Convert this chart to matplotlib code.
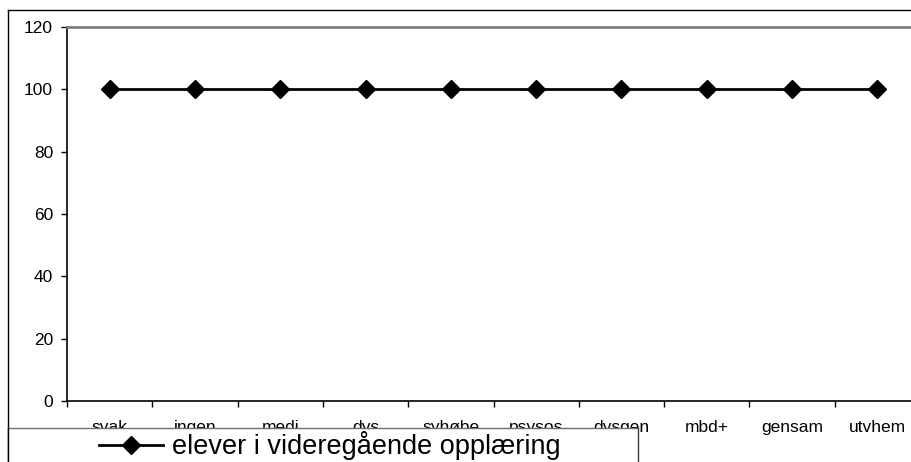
import numpy as np
import matplotlib.pyplot as plt
from matplotlib.patches import Rectangle
from matplotlib.lines import Line2D

plt.rcParams['font.family'] = ['Liberation Sans', 'DejaVu Sans']

categories = ['svak', 'ingen', 'medi', 'dys', 'syhøbe', 'psysos', 'dysgen', 'mbd+', 'gensam', 'utvhem']
values = [100, 100, 100, 100, 100, 100, 100, 100, 100, 100]
series_name = 'elever i videregående opplæring'
yticks = [0, 20, 40, 60, 80, 100, 120]

W, H = 912, 462
fig = plt.figure(figsize=(W / 100, H / 100), dpi=100)

# plot area in pixels: left 67, right 920 (runs past the edge), top 27, bottom 401
ax = fig.add_axes([67 / W, 1 - 401 / H, (920 - 67) / W, (401 - 27) / H])

x = np.arange(len(categories))
ax.plot(x, values, color='black', lw=2.0, marker='D', markersize=8.8,
        markerfacecolor='black', markeredgecolor='black', label=series_name)

ax.set_xlim(-0.5, len(categories) - 0.5)
ax.set_ylim(0, 120)
ax.set_yticks(yticks)
ax.set_yticklabels([str(t) for t in yticks], fontsize=12.5)

# tick marks between categories, labels at category centres
ax.set_xticks(np.arange(-0.5, len(categories), 1.0))
ax.set_xticklabels([])
ax.set_xticks(x, minor=True)
ax.set_xticklabels(categories, minor=True, fontsize=12.5)
ax.tick_params(axis='x', which='major', direction='out', length=4.5, width=1, color='black')
ax.tick_params(axis='x', which='minor', length=0, pad=14)
ax.tick_params(axis='y', direction='out', length=4.5, width=1, pad=5.5)

ax.spines['top'].set_color('#808080')
ax.spines['top'].set_linewidth(2)
ax.spines['right'].set_visible(False)
ax.spines['left'].set_linewidth(1.2)
ax.spines['bottom'].set_linewidth(1.2)

# outer chart border
fig.add_artist(Line2D([8 / W, 8 / W], [0, 1 - 10 / H], transform=fig.transFigure, color='black', lw=1))
fig.add_artist(Line2D([8 / W, 1], [1 - 10 / H, 1 - 10 / H], transform=fig.transFigure, color='black', lw=1))

# legend box
box = Rectangle((8 / W, -0.05), (638 - 8) / W, 0.05 + (H - 428) / H, transform=fig.transFigure,
                facecolor='white', edgecolor='none', zorder=3)
fig.add_artist(box)
fig.add_artist(Line2D([8 / W, 638 / W], [1 - 428 / H, 1 - 428 / H], transform=fig.transFigure,
                      color='#707070', lw=1, zorder=4))
fig.add_artist(Line2D([638 / W, 638 / W], [0, 1 - 428 / H], transform=fig.transFigure,
                      color='#404040', lw=1, zorder=4))
fig.add_artist(Line2D([8 / W, 8 / W], [0, 1 - 428 / H], transform=fig.transFigure,
                      color='black', lw=1, zorder=4))

leg = fig.legend(loc='center left', bbox_to_anchor=(99 / W, 1 - 446 / H), frameon=False,
                 fontsize=19.5, handlelength=2.35, handletextpad=0.35, borderpad=0, borderaxespad=0)
leg.set_zorder(5)

fig.savefig('out.png', dpi=100)
